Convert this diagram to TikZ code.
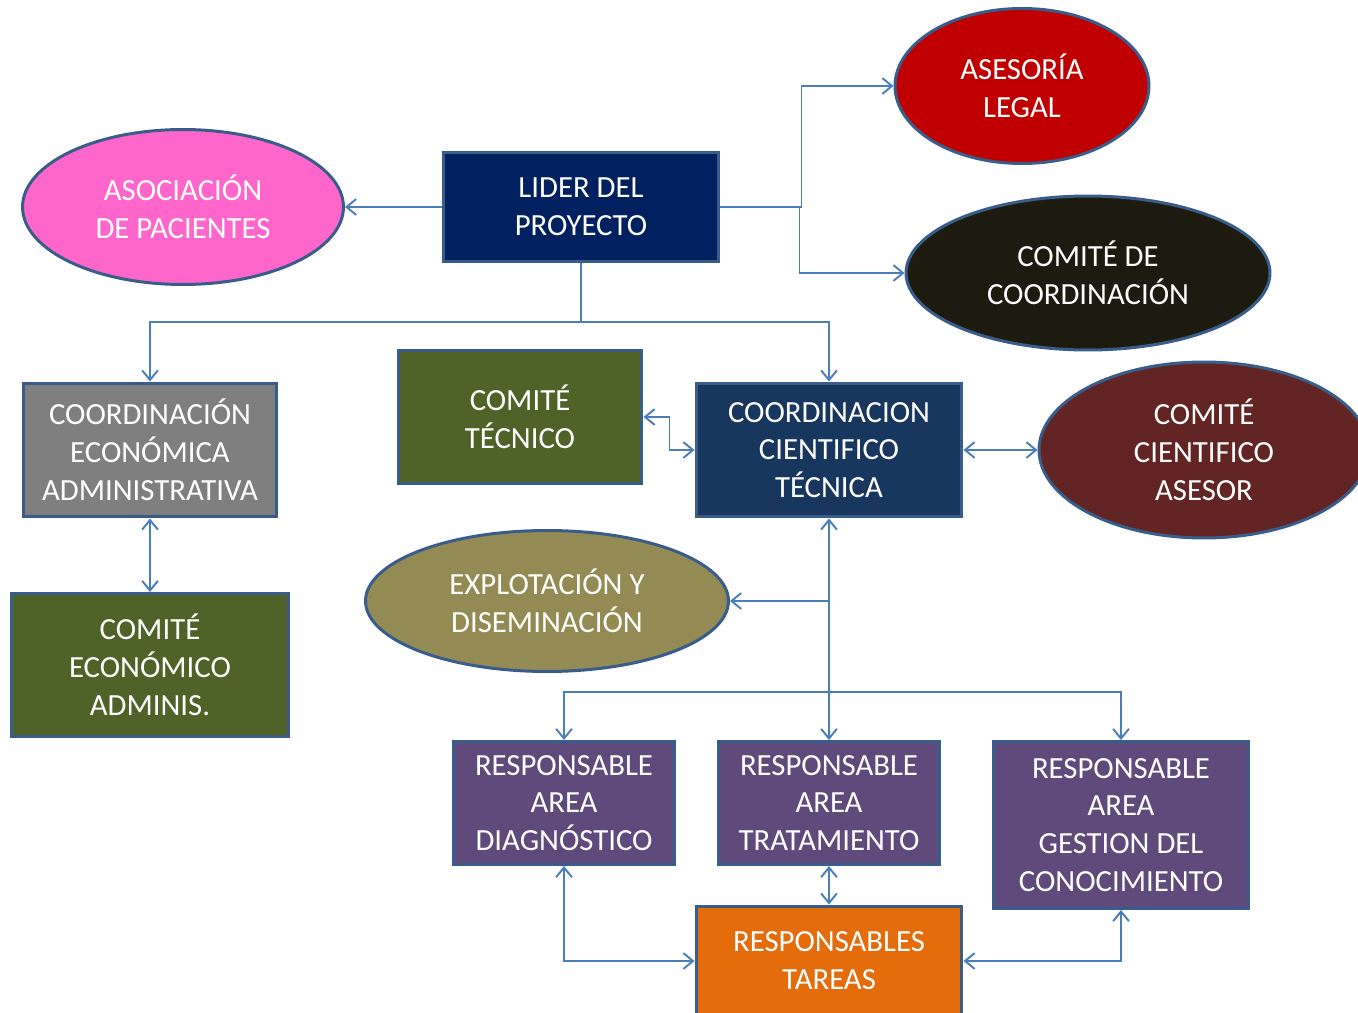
\documentclass[tikz,border=0pt]{standalone}
\usepackage{fontspec}
\setmainfont{Carlito}
\usetikzlibrary{shapes.geometric,arrows.meta}
\definecolor{cnavy}{HTML}{002060}
\definecolor{cpink}{HTML}{FF66CC}
\definecolor{cred}{HTML}{C00000}
\definecolor{cdark}{HTML}{1D1B10}
\definecolor{cgray}{HTML}{7F7F7F}
\definecolor{colive}{HTML}{4F6228}
\definecolor{cblue}{HTML}{17375E}
\definecolor{cmaroon}{HTML}{632523}
\definecolor{ckhaki}{HTML}{948A54}
\definecolor{cpurple}{HTML}{604A7B}
\definecolor{corange}{HTML}{E46C0A}
\definecolor{cborder}{HTML}{385D8A}
\definecolor{cconn}{HTML}{4A7EBB}
\tikzset{
  base/.style={draw=cborder, line width=1.7pt, text=white, align=center, inner sep=0pt,
    font=\fontsize{17.5pt}{21.5pt}\selectfont},
  rbox/.style={base, rectangle},
  oval/.style={base, ellipse},
  conn/.style={draw=cconn, line width=1.1pt},
  arr/.style={conn, -{Straight Barb[length=5.5pt,width=9pt]}},
  darr/.style={conn, {Straight Barb[length=5.5pt,width=9pt]}-{Straight Barb[length=5.5pt,width=9pt]}},
}
\begin{document}
\begin{tikzpicture}[x=0.02cm,y=-0.02cm]
\useasboundingbox (0,0) rectangle (1358,1013);
\fill[white] (0,0) rectangle (1358,1013);
% nodes
\node[rbox, fill=cnavy, minimum width=5.52cm, minimum height=2.2cm] (lider) at (581,207) {LIDER DEL\\PROYECTO};
\node[oval, fill=cpink, minimum width=6.42cm, minimum height=3.1cm] (asoc) at (183,207) {ASOCIACIÓN\\DE PACIENTES};
\node[oval, fill=cred, minimum width=5.08cm, minimum height=3.1cm] (legal) at (1022,86) {ASESORÍA\\LEGAL};
\node[oval, fill=cdark, minimum width=7.28cm, minimum height=3.08cm] (coord) at (1088,273) {COMITÉ DE\\COORDINACIÓN};
\node[rbox, fill=cgray, minimum width=5.08cm, minimum height=2.68cm] (econ) at (150,450) {COORDINACIÓN\\ECONÓMICA\\ADMINISTRATIVA};
\node[rbox, fill=colive, minimum width=4.88cm, minimum height=2.68cm] (tec) at (520,417) {COMITÉ\\TÉCNICO};
\node[rbox, fill=cblue, minimum width=5.32cm, minimum height=2.68cm] (cct) at (829,450) {COORDINACION\\CIENTIFICO\\TÉCNICA};
\node[oval, fill=cmaroon, minimum width=6.6cm, minimum height=3.52cm] (csa) at (1204,450) {COMITÉ\\CIENTIFICO\\ASESOR};
\node[rbox, fill=colive, minimum width=5.54cm, minimum height=2.86cm] (cecon) at (150,665) {COMITÉ\\ECONÓMICO\\ADMINIS.};
\node[oval, fill=ckhaki, minimum width=7.26cm, minimum height=2.82cm] (expl) at (547,601) {EXPLOTACIÓN Y\\DISEMINACIÓN};
\node[rbox, fill=cpurple, minimum width=4.44cm, minimum height=2.46cm] (diag) at (564,803) {RESPONSABLE\\AREA\\DIAGNÓSTICO};
\node[rbox, fill=cpurple, minimum width=4.44cm, minimum height=2.46cm] (trat) at (829,803) {RESPONSABLE\\AREA\\TRATAMIENTO};
\node[rbox, fill=cpurple, minimum width=5.1cm, minimum height=3.34cm] (gest) at (1121,825) {RESPONSABLE\\AREA\\GESTION DEL\\CONOCIMIENTO};
\node[rbox, fill=corange, minimum width=5.32cm, minimum height=2.2cm] (tareas) at (829,961) {RESPONSABLES\\TAREAS};
% connectors
\draw[arr] (lider.west) -- (asoc.east);
\draw[arr] (lider.east) -- ++(81,0) |- (legal.west);
\draw[arr] (lider.east) -- ++(79,0) |- (coord.west);
\coordinate (j1) at (581,322);
\draw[conn] (lider.south) -- (j1);
\draw[arr] (j1) -| (econ.north);
\draw[arr] (j1) -| (cct.north);
\draw[darr] (econ.south) -- (cecon.north);
\draw[darr] (tec.east) -- ++(26,0) |- (cct.west);
\draw[darr] (cct.east) -- (csa.west);
\draw[darr] (cct.south) -- (trat.north);
\coordinate (j2) at (829,601);
\draw[arr] (j2) -- (expl.east);
\coordinate (j3) at (829,692);
\draw[arr] (j3) -| (diag.north);
\draw[arr] (j3) -| (gest.north);
\draw[darr] (trat.south) -- (tareas.north);
\draw[darr] (diag.south) |- (tareas.west);
\draw[darr] (gest.south) |- (tareas.east);
\end{tikzpicture}
\end{document}
